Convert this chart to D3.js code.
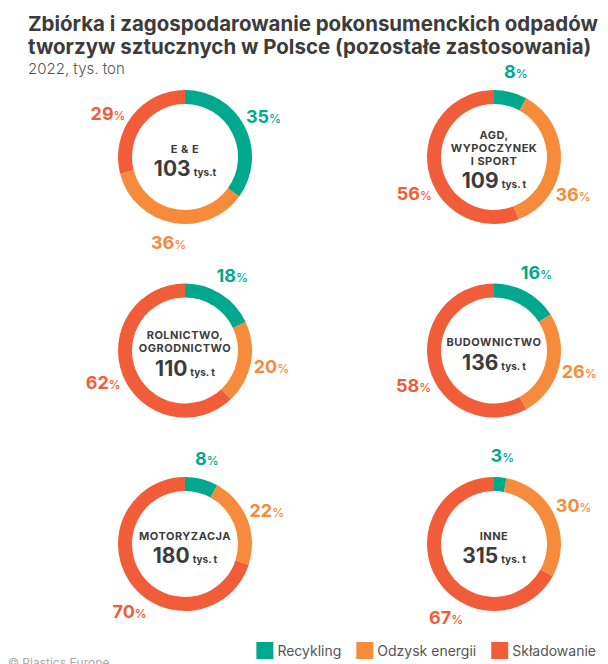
<!DOCTYPE html>
<html>
<head>
<meta charset="utf-8">
<script src="https://cdn.jsdelivr.net/npm/d3@7"></script>
<style>
  html, body { margin: 0; padding: 0; background: #fff; }
  svg { display: block; font-family: "Inter", "Lato", sans-serif; }
</style>
</head>
<body>
<div id="chart"></div>
<script>
// data
const categories = [["E & E"], ["AGD,", "WYPOCZYNEK", "I SPORT"], ["ROLNICTWO,", "OGRODNICTWO"], ["BUDOWNICTWO"], ["MOTORYZACJA"], ["INNE"]];
const totals = [103, 109, 110, 136, 180, 315];
const unitLabels = ["tys.t", "tys. t", "tys. t", "tys. t", "tys. t", "tys. t"];
const seriesNames = ["Recykling", "Odzysk energii", "Składowanie"];
const recykling = [35, 8, 18, 16, 8, 3];
const odzyskEnergii = [36, 36, 20, 26, 22, 30];
const skladowanie = [29, 56, 62, 58, 70, 67];

var cfg = {
  w: 608,
  h: 664,
  outerR: 67,
  innerR: 53,
  labelR: 88,
  color: ["#00a98e", "#f58b3b", "#f15c39"],
  textDark: "#3c3c3c"
};

// hand-placed label angles (deg, clockwise from top) where the designer moved them off the centroid
const labelAngleFix = {"0-2": 299, "1-1": 116, "1-2": 245, "3-2": 246, "4-2": 219, "5-2": 213};

const values = [recykling, odzyskEnergii, skladowanie];

var svg = d3.select("#chart")
  .append("svg")
  .attr("width", cfg.w)
  .attr("height", cfg.h);

svg.append("rect").attr("width", cfg.w).attr("height", cfg.h).attr("fill", "#fff");

// Title
var title = svg.append("g").attr("fill", cfg.textDark).attr("font-weight", 700);
var t1 = title.append("text").attr("x", 28).attr("y", 31)
  .attr("font-size", 20).text("Zbiórka i zagospodarowanie pokonsumenckich odpadów");
var fs = 20 * 570 / t1.node().getComputedTextLength();
t1.attr("font-size", fs);
title.append("text").attr("x", 28).attr("y", 54)
  .attr("font-size", fs).text("tworzyw sztucznych w Polsce (pozostałe zastosowania)");

svg.append("text").attr("x", 28).attr("y", 74)
  .attr("font-size", 15).attr("fill", "#555").attr("font-weight", 300)
  .text("2022, tys. ton");

// grid of donuts
var col = d3.scalePoint().domain([0, 1]).range([185, 494]);
var row = d3.scalePoint().domain([0, 1, 2]).range([157, 544]);

var pie = d3.pie().sort(null).value(d => d.v);
var arc = d3.arc().innerRadius(cfg.innerR).outerRadius(cfg.outerR);
var rad = Math.PI / 180;

categories.forEach(function(cat, i) {
  var cx = col(i % 2), cy = row(Math.floor(i / 2));
  var g = svg.append("g").attr("transform", "translate(" + cx + "," + cy + ")");
  var slices = pie(values.map((s, k) => ({k: k, v: s[i]})));

  g.selectAll("path")
    .data(slices)
    .enter()
    .append("path")
    .attr("d", arc)
    .attr("fill", d => cfg.color[d.data.k]);

  // percentage labels
  g.selectAll("text.pct")
    .data(slices)
    .enter()
    .append("text")
    .attr("class", "pct")
    .each(function(d) {
      var key = i + "-" + d.data.k;
      var a = labelAngleFix[key] !== undefined ? labelAngleFix[key] * rad : (d.startAngle + d.endAngle) / 2;
      var t = d3.select(this)
        .attr("x", Math.sin(a) * cfg.labelR)
        .attr("y", -Math.cos(a) * cfg.labelR)
        .attr("dy", "0.36em")
        .attr("text-anchor", "middle")
        .attr("fill", cfg.color[d.data.k]);
      t.append("tspan").attr("font-size", 18).attr("font-weight", 700).text(d.data.v);
      t.append("tspan").attr("font-size", 12).attr("font-weight", 500).text("%");
    });

  // centre text
  var n = cat.length;
  var firstY = -8 - 7 * (n - 1);
  cat.forEach(function(line, j) {
    g.append("text")
      .attr("y", firstY + j * 13)
      .attr("dy", "0.36em")
      .attr("text-anchor", "middle")
      .attr("font-size", 11)
      .attr("letter-spacing", 0.5)
      .attr("font-weight", 700)
      .attr("fill", cfg.textDark)
      .text(line);
  });
  var num = g.append("text")
    .attr("y", firstY + 13 * (n - 1) + 27)
    .attr("text-anchor", "middle")
    .attr("fill", cfg.textDark)
    .attr("font-weight", 700);
  num.append("tspan").attr("font-size", 21).text(totals[i]);
  num.append("tspan").attr("font-size", 10).attr("dx", 3).text(unitLabels[i]);
});

// legend
var legend = svg.append("g").attr("font-size", 14).attr("fill", "#555");
var xEnd = 596, sq = 17;
var items = seriesNames.map((name, k) => {
  var t = legend.append("text").attr("y", 656).text(name);
  return {t: t, w: t.node().getComputedTextLength(), k: k};
});
var total = d3.sum(items, d => sq + 4 + d.w) + 15 * (items.length - 1);
var lx = xEnd - total;
items.forEach(function(d) {
  legend.append("rect").attr("x", lx).attr("y", 642).attr("width", sq).attr("height", sq)
    .attr("fill", cfg.color[d.k]);
  d.t.attr("x", lx + sq + 4);
  lx += sq + 4 + d.w + 15;
});

svg.append("text").attr("x", 8).attr("y", 667)
  .attr("font-size", 12).attr("fill", "#aaa")
  .text("© Plastics Europe");
</script>
</body>
</html>
